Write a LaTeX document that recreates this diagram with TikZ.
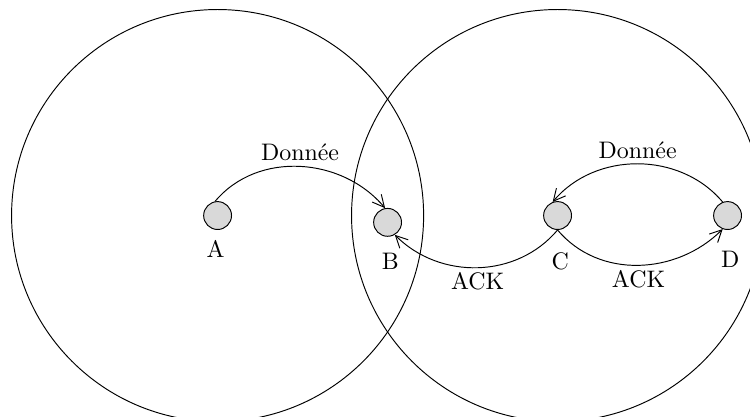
\documentclass[tikz,border=0pt]{standalone}
\usetikzlibrary{arrows.meta}
\tikzset{
  station/.style={circle, draw, fill=black!15, minimum size=0.41cm, inner sep=0pt},
  namelabel/.style={inner sep=0pt},
  msg/.style={-{Straight Barb[length=5pt,width=5pt]}},
  msglabel/.style={midway, inner sep=2pt}
}
\begin{document}
\begin{tikzpicture}
\useasboundingbox (-3.2,-2.95) rectangle (7.83,3.17);
\clip (-3.2,-2.95) rectangle (7.83,3.17);
% stations
\node[station] (A) at (0,0) {};
\node[station] (B) at (2.5,-0.1) {};
\node[station] (C) at (5,0) {};
\node[station] (D) at (7.5,0) {};
% ranges
\draw (A.center) circle (3.03cm);
\draw (C.center) circle (3.03cm);
% names
\node[namelabel] (lA) at (-0.03,-0.49) {A};
\node[namelabel] (lB) at (2.54,-0.67) {B};
\node[namelabel] (lC) at (5.04,-0.67) {C};
\node[namelabel] (lD) at (7.54,-0.65) {D};
% messages
\draw[msg] (A.100) to[out=50,in=130] node[msglabel,above] (mAB) {Donnée} (B.100);
\draw[msg] (C.south) to[out=-130,in=-45] node[msglabel,below] (mCB) {ACK} (B.-60);
\draw[msg] (C.south) to[out=-50,in=-135] node[msglabel,below] (mCD) {ACK} (D.-110);
\draw[msg] (D.110) to[out=130,in=50] node[msglabel,above] (mDC) {Donnée} (C.110);
\end{tikzpicture}
\end{document}
